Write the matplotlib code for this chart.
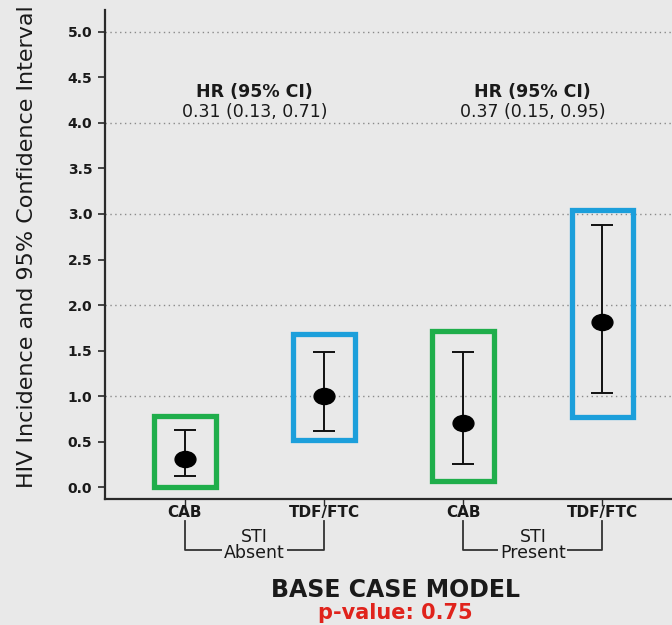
import matplotlib
matplotlib.use("Agg")
import matplotlib.pyplot as plt
from matplotlib.patches import Rectangle
from matplotlib.path import Path
from matplotlib.transforms import Affine2D, blended_transform_factory
import numpy as np

plt.rcParams['font.family'] = ['DejaVu Sans']

# Data
arms = ["CAB", "TDF/FTC", "CAB", "TDF/FTC"]
incidence = [0.31, 1.00, 0.70, 1.81]
ci_low = [0.12, 0.62, 0.25, 1.03]
ci_high = [0.63, 1.48, 1.48, 2.88]
box_low = [0.00, 0.52, 0.07, 0.77]
box_high = [0.78, 1.68, 1.71, 3.04]
box_colors = ["#1fae4b", "#1c9fdb", "#1fae4b", "#1c9fdb"]
groups = ["STI\nAbsent", "STI\nPresent"]
hr_labels = ["0.31 (0.13, 0.71)", "0.37 (0.15, 0.95)"]
y_ticks = [0.0, 0.5, 1.0, 1.5, 2.0, 2.5, 3.0, 3.5, 4.0, 4.5, 5.0]
grid_levels = [1, 2, 3, 4, 5]

bg = "#e9e9e9"
fig = plt.figure(figsize=(6.72, 6.25), dpi=100, facecolor=bg)
ax = fig.add_axes([0.156, 0.2016, 0.844, 0.7824], facecolor=bg)

x = np.arange(len(arms))
ax.set_xlim(-0.575, 3.5)
ax.set_ylim(-0.13, 5.24)

# dotted reference lines
for g in grid_levels:
    ax.axhline(g, color="#8a8a8a", lw=1.0, ls=(0, (1, 2.5)), zorder=1)

# highlight boxes
half_w = 0.222
for xi, lo, hi, c in zip(x, box_low, box_high, box_colors):
    ax.add_patch(Rectangle((xi - half_w, lo), 2 * half_w, hi - lo,
                           fill=False, ec=c, lw=3.8, zorder=2))

# estimates with confidence intervals
ellipse = Path.unit_circle().transformed(Affine2D().scale(1.3, 1.0))
yerr = [np.array(incidence) - np.array(ci_low),
        np.array(ci_high) - np.array(incidence)]
ax.errorbar(x, incidence, yerr=yerr, fmt="none", ecolor="#111111",
            elinewidth=1.4, capsize=8, capthick=1.4, zorder=3)
ax.plot(x, incidence, ls="none", marker=ellipse, ms=15, color="#000000", zorder=4)

# HR annotations
for i, lab in enumerate(hr_labels):
    cx = (x[2 * i] + x[2 * i + 1]) / 2
    ax.text(cx, 4.34, "HR (95% CI)", ha="center", va="center",
            fontsize=12.5, fontweight="bold", color="#1a1a1a")
    ax.text(cx, 4.12, lab, ha="center", va="center",
            fontsize=12.5, color="#1a1a1a")

# axes styling
for s in ["top", "right"]:
    ax.spines[s].set_visible(False)
for s in ["left", "bottom"]:
    ax.spines[s].set_color("#2a2a2a")
    ax.spines[s].set_linewidth(1.6)

ax.set_yticks(y_ticks)
ax.set_yticklabels([f"{v:.1f}" for v in y_ticks], fontweight="bold", fontsize=10)
ax.tick_params(axis="y", direction="out", length=5, width=1.2, color="#2a2a2a",
               pad=4, labelcolor="#1a1a1a")
ax.set_xticks(x)
ax.set_xticklabels(arms, fontweight="bold", fontsize=11)
ax.tick_params(axis="x", direction="out", length=5, width=1.0, color="#2a2a2a",
               pad=-1, labelcolor="#1a1a1a")

ax.set_ylabel("HIV Incidence and 95% Confidence Interval", fontsize=16,
              color="#1a1a1a")
ax.yaxis.set_label_coords(-0.119, 0.517)

# group brackets under the axis
tr = blended_transform_factory(ax.transData, ax.transAxes)
y_top, y_bot = -0.045, -0.105
for i, g in enumerate(groups):
    x0, x1 = x[2 * i], x[2 * i + 1]
    ax.plot([x0, x0, x1, x1], [y_top, y_bot, y_bot, y_top], transform=tr,
            color="#333333", lw=1.3, clip_on=False, zorder=1)
    ax.text((x0 + x1) / 2, -0.094, g, transform=tr, ha="center", va="center",
            fontsize=12.5, color="#1a1a1a", linespacing=0.9,
            bbox=dict(boxstyle="square,pad=0.1", fc=bg, ec="none"), zorder=2)

fig.text(0.588, 0.056, "BASE CASE MODEL", ha="center", va="center",
         fontsize=17, fontweight="bold", color="#1a1a1a")
fig.text(0.588, 0.019, "p-value: 0.75", ha="center", va="center",
         fontsize=15, fontweight="bold", color="#e0231c")

fig.savefig("out.png", dpi=100, facecolor=bg)
